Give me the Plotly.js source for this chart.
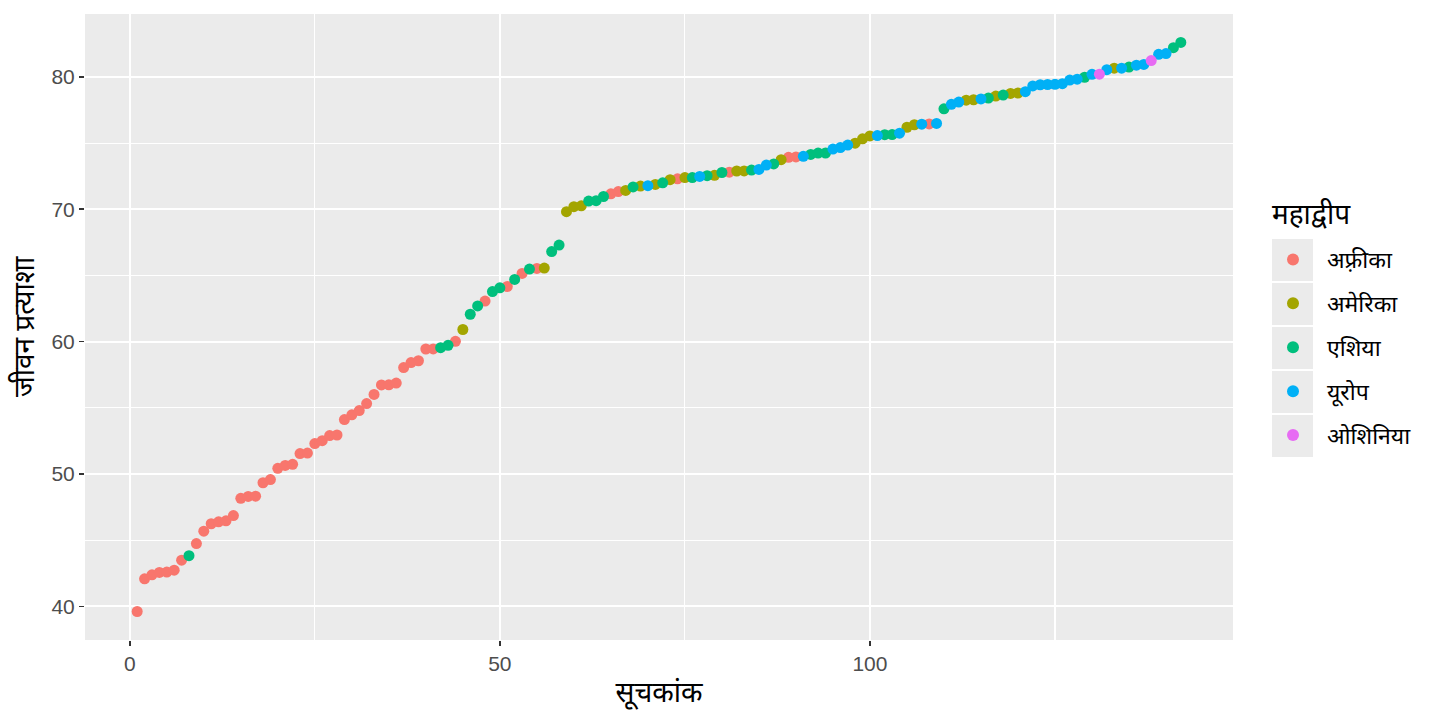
<!DOCTYPE html>
<html>
<head>
<meta charset="utf-8">
<script src="https://cdn.plot.ly/plotly-3.0.1.min.js"></script>
<style>html,body{margin:0;padding:0;background:#fff;}#chart{width:1440px;height:720px;}</style>
</head>
<body>
<div id="chart"></div>
<script>
// Life expectancy (sorted ascending) and continent code per point
const lifeExp = [
 39.613,42.082,42.384,42.568,42.592,42.731,43.487,43.828,44.741,45.678,
 46.242,46.388,46.462,46.859,48.159,48.303,48.328,49.339,49.580,50.430,
 50.651,50.728,51.542,51.579,52.295,52.517,52.906,52.947,54.110,54.467,
 54.791,55.322,56.007,56.728,56.735,56.867,58.040,58.420,58.556,59.443,
 59.448,59.545,59.723,60.022,60.916,62.069,62.698,63.062,63.785,64.062,
 64.164,64.698,65.152,65.483,65.528,65.554,66.803,67.297,69.819,70.198,
 70.259,70.616,70.650,70.964,71.164,71.338,71.421,71.688,71.752,71.777,
 71.878,71.993,72.235,72.301,72.390,72.396,72.476,72.535,72.567,72.777,
 72.801,72.889,72.899,72.961,73.005,73.338,73.422,73.747,73.923,73.952,
 74.002,74.143,74.241,74.249,74.543,74.663,74.852,74.994,75.320,75.537,
 75.563,75.635,75.640,75.748,76.195,76.384,76.423,76.442,76.486,77.588,
 77.926,78.098,78.242,78.273,78.332,78.400,78.553,78.623,78.746,78.782,
 78.885,79.313,79.406,79.425,79.441,79.483,79.762,79.829,79.972,80.196,
 80.204,80.546,80.653,80.657,80.745,80.884,80.941,81.235,81.701,81.757,
 82.208,82.603
];
// A=Africa, M=Americas, S=Asia, E=Europe, O=Oceania
const continentCode = [
 'A','A','A','A','A','A','A','S','A','A',
 'A','A','A','A','A','A','A','A','A','A',
 'A','A','A','A','A','A','A','A','A','A',
 'A','A','A','A','A','A','A','A','A','A',
 'A','S','S','A','M','S','S','A','S','S',
 'A','S','A','S','A','M','S','S','M','M',
 'M','S','S','S','A','A','M','S','M','E',
 'M','S','M','A','M','S','E','S','M','S',
 'A','M','M','S','E','E','S','M','A','A',
 'E','S','S','S','E','E','E','M','M','M',
 'E','S','S','E','M','M','E','A','E','S',
 'E','E','M','M','E','S','M','S','M','M',
 'E','E','E','E','E','E','E','E','S','E',
 'O','E','M','E','S','E','E','O','E','E',
 'S','S'
];
const groupCodes = ['A','M','S','E','O'];
const groupLabels = ['अफ़्रीका','अमेरिका','एशिया','यूरोप','ओशिनिया'];
const groupColors = ['#F8766D','#A3A500','#00BF7D','#00B0F6','#E76BF3'];
const xTicks = [0,50,100];
const yTicks = [40,50,60,70,80];
const xTitle = 'सूचकांक';
const yTitle = 'जीवन प्रत्याशा';
const legendTitle = 'महाद्वीप';

const FONT = 'Noto Sans, "Noto Sans Devanagari", Lohit Devanagari, sans-serif';
const TICKFONT = '"Liberation Sans", Arial, Helvetica, sans-serif';

const traces = groupCodes.map((code, gi) => {
  const xs = [], ys = [];
  lifeExp.forEach((v, i) => { if (continentCode[i] === code) { xs.push(i + 1); ys.push(v); } });
  return {
    type: 'scatter', mode: 'markers', x: xs, y: ys, name: groupLabels[gi],
    legendgroup: 'g' + gi,
    marker: {color: groupColors[gi], size: 11, line: {width: 0}},
    hoverinfo: 'x+y+name'
  };
});

// gray legend key backgrounds (ggplot style)
const plotL = 85, plotR = 1233, plotT = 14, plotB = 640;
const pw = plotR - plotL, ph = plotB - plotT;
const px2x = p => (p - plotL) / pw;
const px2y = p => (plotB - p) / ph;
const shapes = groupCodes.map((c, gi) => {
  const top = 239 + gi * 44;
  return {type: 'rect', xref: 'paper', yref: 'paper', layer: 'below',
    x0: px2x(1272), x1: px2x(1313), y0: px2y(top + 42), y1: px2y(top),
    fillcolor: '#EBEBEB', line: {width: 0}};
});

const layout = {
  width: 1440, height: 720,
  margin: {l: plotL, r: 1440 - plotR, t: plotT, b: 720 - plotB},
  paper_bgcolor: '#FFFFFF', plot_bgcolor: '#EBEBEB',
  font: {family: FONT, color: '#000'},
  xaxis: {
    range: [-6.05, 149.05], tickvals: xTicks, ticktext: xTicks.map(String),
    showgrid: true, gridcolor: '#FFFFFF', gridwidth: 2.2, zeroline: false,
    ticks: 'outside', ticklen: 5, tickwidth: 1.6, tickcolor: '#333333',
    tickfont: {size: 21, color: '#4D4D4D', family: TICKFONT},
    minor: {tickvals: [25, 75, 125], showgrid: true, gridcolor: '#FFFFFF', gridwidth: 1.1, ticks: ''},
    showline: false,
    title: {text: xTitle, font: {size: 28, color: '#000', family: FONT}, standoff: 8}
  },
  yaxis: {
    range: [37.46, 84.75], tickvals: yTicks, ticktext: yTicks.map(String),
    showgrid: true, gridcolor: '#FFFFFF', gridwidth: 2.2, zeroline: false,
    ticks: 'outside', ticklen: 5, tickwidth: 1.6, tickcolor: '#333333',
    tickfont: {size: 21, color: '#4D4D4D', family: TICKFONT},
    minor: {tickvals: [45, 55, 65, 75], showgrid: true, gridcolor: '#FFFFFF', gridwidth: 1.1, ticks: ''},
    showline: false,
    title: {text: yTitle, font: {size: 28, color: '#000', family: FONT}, standoff: 8}
  },
  showlegend: true,
  legend: {
    x: px2x(1259), y: px2y(238), xanchor: 'left', yanchor: 'top',
    bgcolor: 'rgba(0,0,0,0)', borderwidth: 0,
    font: {size: 23, color: '#000', family: FONT},
    tracegroupgap: 11, itemsizing: 'constant', itemwidth: 58
  },
  annotations: [{
    text: legendTitle, xref: 'paper', yref: 'paper', x: px2x(1270), y: px2y(213),
    xanchor: 'left', yanchor: 'middle', showarrow: false,
    font: {size: 28, color: '#000', family: FONT}
  }],
  shapes: shapes
};

Plotly.newPlot('chart', traces, layout, {displayModeBar: false, staticPlot: true});
</script>
</body>
</html>
